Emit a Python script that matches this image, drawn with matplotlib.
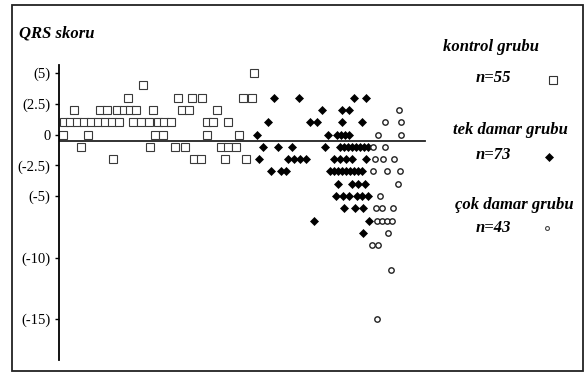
import matplotlib.pyplot as plt
from matplotlib.lines import Line2D
from matplotlib.patches import Rectangle

# Veriler: x = hasta sırası (grafik içi yatay konum), y = QRS skoru
kontrol_x = [254, 143,
             128, 178, 192, 202, 243, 252,
             74, 100, 107, 117, 124, 130, 136, 153, 182, 189, 217,
             64, 70, 77, 84, 91, 98, 105, 112, 119, 133, 141, 149, 158, 164, 171, 207, 213, 228,
             63, 88, 155, 163, 207, 239,
             81, 150, 175, 185, 221, 228, 236,
             113, 194, 201, 225, 246]
kontrol_y = [5, 4] + [3] * 6 + [2] * 11 + [1] * 18 + [0] * 6 + [-1] * 7 + [-2] * 5

tek_x = [274, 299, 354, 366,
         322, 342, 349,
         268, 310, 317, 342, 362,
         257, 328, 337, 341, 345, 349,
         263, 278, 292, 325, 340, 344, 348, 352, 356, 360, 364, 368,
         259, 288, 294, 300, 306, 334, 340, 346, 352, 366,
         271, 281, 286, 330, 334, 338, 342, 346, 350, 354, 358, 362,
         338, 352, 358, 365,
         336, 343, 349, 357, 362, 368,
         344, 355, 363,
         314, 369,
         363]
tek_y = ([3] * 4 + [2] * 3 + [1] * 5 + [0] * 6 + [-1] * 12 + [-2] * 10 + [-3] * 12
         + [-4] * 4 + [-5] * 6 + [-6] * 3 + [-7] * 2 + [-8])

cok_x = [399,
         385, 401,
         378, 401,
         373, 385,
         375, 383, 394,
         373, 387, 400,
         398,
         380,
         376, 382, 393,
         377, 382, 387, 392,
         388,
         372, 378,
         391,
         377]
cok_y = ([2] + [1] * 2 + [0] * 2 + [-1] * 2 + [-2] * 3 + [-3] * 3 + [-4] + [-5]
         + [-6] * 3 + [-7] * 4 + [-8] + [-9] * 2 + [-11] + [-15])

ytick_deger = [5, 2.5, 0, -2.5, -5, -10, -15]
ytick_etiket = ["(5)", "(2.5)", "0", "(-2.5)", "(-5)", "(-10)", "(-15)"]

W, H = 587, 373
fig = plt.figure(figsize=(W / 100, H / 100), dpi=100, facecolor="white")
plt.rcParams["font.family"] = ["Liberation Serif", "DejaVu Serif"]

# eksen alanı (piksel olarak yerleşim)
ax_sol, ax_sag, ax_ust, ax_alt = 59, 430, 65, 360
ax = fig.add_axes([ax_sol / W, 1 - ax_alt / H, (ax_sag - ax_sol) / W, (ax_alt - ax_ust) / H])
piksel_birim = 12.3
sifir_px = 134.5
ax.set_xlim(ax_sol, ax_sag)
ax.set_ylim((sifir_px - ax_alt) / piksel_birim, (sifir_px - ax_ust) / piksel_birim)

for s in ["top", "right", "bottom"]:
    ax.spines[s].set_visible(False)
ax.spines["left"].set_linewidth(1.3)
ax.set_xticks([])
ax.set_yticks(ytick_deger)
ax.set_yticklabels(ytick_etiket, fontsize=10.5)
ax.tick_params(axis="y", length=3, width=1, pad=3)

# sıfır çizgisi
ax.axhline(-0.5, xmin=0.0, xmax=(425 - ax_sol) / (ax_sag - ax_sol), color="#222222", lw=1.3)

ax.plot(kontrol_x, kontrol_y, ls="none", marker="s", ms=6.0, mfc="white",
        mec="#3a3a3a", mew=0.8, clip_on=False)
ax.plot(tek_x, tek_y, ls="none", marker="D", ms=4.3, mfc="black",
        mec="black", mew=0.5, clip_on=False)
ax.plot(cok_x, cok_y, ls="none", marker="o", ms=3.9, mfc="white",
        mec="#222222", mew=1.0, clip_on=False)

# başlık
fig.text(19 / W, 1 - 33 / H, "QRS skoru", fontsize=12, fontweight="bold",
         fontstyle="italic", va="center", ha="left")

# açıklamalar
aciklama = [("kontrol grubu", "n=55", 443, 47, 78, "s", 553, 80),
            ("tek damar grubu", "n=73", 453, 130, 155, "D", 549, 157),
            ("çok damar grubu", "n=43", 455, 205, 228, "o", 547, 228)]
for ad, n, x0, y1, y2, mk, mx, my in aciklama:
    fig.text(x0 / W, 1 - y1 / H, ad, fontsize=12, fontweight="bold",
             fontstyle="italic", va="center", ha="left")
    fig.text(476 / W, 1 - y2 / H, n, fontsize=12, fontweight="bold",
             fontstyle="italic", va="center", ha="left")
    if mk == "s":
        stil = dict(ms=5.6, mfc="white", mec="#333333", mew=0.8)
    elif mk == "D":
        stil = dict(ms=4.0, mfc="black", mec="black", mew=0.5)
    else:
        stil = dict(ms=2.8, mfc="white", mec="#444444", mew=0.8)
    fig.add_artist(Line2D([mx / W], [1 - my / H], ls="none", marker=mk, **stil))

# çerçeve
fig.add_artist(Rectangle((12 / W, 1 - 371 / H), (583 - 12) / W, (371 - 5) / H,
                         transform=fig.transFigure, fill=False, ec="#222222", lw=1.3))

fig.savefig("out.png", dpi=100, facecolor="white")
